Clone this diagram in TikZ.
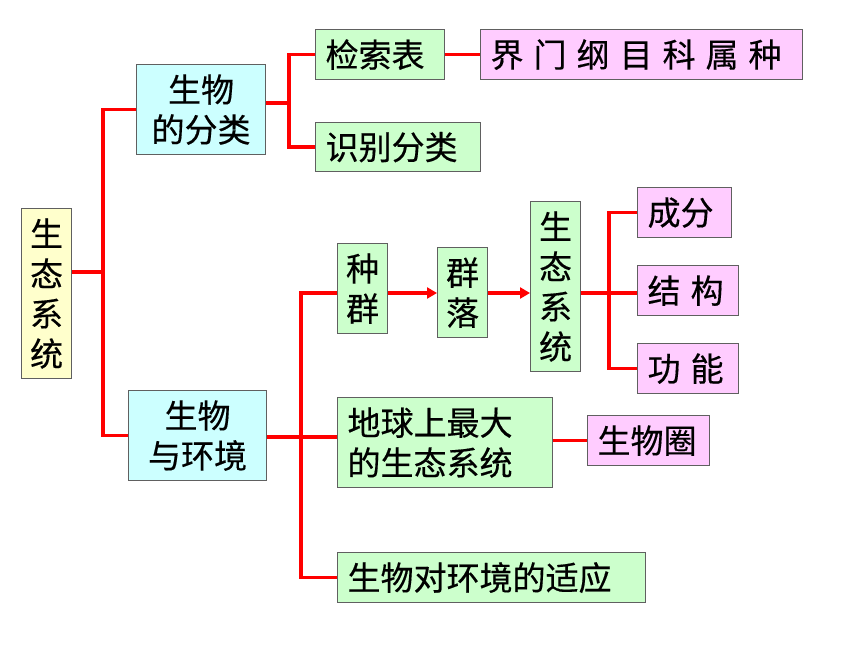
\documentclass[tikz,border=0pt]{standalone}
\usepackage{fontspec}
\newfontfamily\cjkfont[FakeBold=0.4]{Noto Sans CJK SC}
\usetikzlibrary{arrows.meta}
\definecolor{yel}{HTML}{FFFFCC}
\definecolor{cya}{HTML}{CCFFFF}
\definecolor{grn}{HTML}{CCFFCC}
\definecolor{pnk}{HTML}{FFCCFF}
\definecolor{bordc}{HTML}{606060}
\definecolor{lnred}{HTML}{FF0000}
\newcommand\widesp{\spaceskip=10pt\relax}
\tikzset{
  box/.style={draw=bordc, line width=1.2pt, inner sep=0pt, anchor=north west,
    font=\cjkfont\fontsize{33}{40}\selectfont, text=black},
  lbox/.style={box, inner xsep=10pt, align=left},
  cbox/.style={box, align=center},
  link/.style={draw=lnred, line width=3.6pt},
  arr/.style={link, -{Triangle[length=10pt,width=11pt]}},
}
\begin{document}
\begin{tikzpicture}[x=1pt,y=-1pt]
\useasboundingbox (0,0) rectangle (860,645);
% nodes
\node[cbox, fill=yel, minimum width=50pt, minimum height=170pt] (root) at (21,208) {生\\态\\系\\统};
\node[cbox, fill=cya, minimum width=129pt, minimum height=90pt] (cls) at (136,64) {生物\\的分类};
\node[cbox, fill=cya, minimum width=138pt, minimum height=90pt] (env) at (128,390) {生物\\与环境};
\node[lbox, fill=grn, text width=109pt, minimum height=50pt] (idx) at (315,29) {检索表};
\node[lbox, fill=grn, text width=145pt, minimum height=49pt] (ident) at (315,122) {识别分类};
\node[lbox, fill=pnk, text width=302pt, minimum height=50pt] (rank) at (480,29) {\widesp 界 门 纲 目 科 属 种};
\node[cbox, fill=grn, minimum width=50pt, minimum height=90pt] (pop) at (337,243) {种\\群};
\node[cbox, fill=grn, minimum width=50pt, minimum height=90pt] (com) at (437,247) {群\\落};
\node[cbox, fill=grn, minimum width=50pt, minimum height=170pt] (eco) at (530,201) {生\\态\\系\\统};
\node[lbox, fill=pnk, text width=74pt, minimum height=50pt] (comp) at (637,187) {成分};
\node[lbox, fill=pnk, text width=81pt, minimum height=50pt] (struct) at (637,265) {\widesp 结 构};
\node[lbox, fill=pnk, text width=81pt, minimum height=50pt] (func) at (637,343) {\widesp 功 能};
\node[lbox, fill=grn, text width=195pt, minimum height=90pt] (earth) at (337,397) {地球上最大\\的生态系统};
\node[lbox, fill=pnk, text width=102pt, minimum height=50pt] (bio) at (587,415) {生物圈};
\node[lbox, fill=grn, text width=288pt, minimum height=50pt] (adapt) at (337,552) {生物对环境的适应};
% junctions
\coordinate (j1) at (103,272);
\coordinate (j2) at (289,103);
\coordinate (j3) at (301,437);
\coordinate (ay) at (301,293);
\coordinate (j4) at (609,293);
% connectors
\draw[link] (root.east |- j1) -- (j1);
\draw[link] (j1) |- (cls.west);
\draw[link] (j1) |- (env.west);
\draw[link] (cls.east |- j2) -- (j2);
\draw[link] (j2) |- (idx.west);
\draw[link] (j2) |- (ident.west);
\draw[link] (idx.east) -- (idx.east -| rank.west);
\draw[link] (env.east |- j3) -- (earth.west |- j3);
\draw[link] (pop.west |- ay) -| (j3);
\draw[link] (j3) |- (adapt.west);
\draw[arr] (pop.east |- ay) -- (com.west |- ay);
\draw[arr] (com.east |- ay) -- (eco.west |- ay);
\draw[link] (eco.east |- j4) -- (struct.west |- j4);
\draw[link] (comp.west) -| (j4);
\draw[link] (j4) |- (func.west);
\draw[link] (earth.east |- bio.west) -- (bio.west);
\end{tikzpicture}
\end{document}
